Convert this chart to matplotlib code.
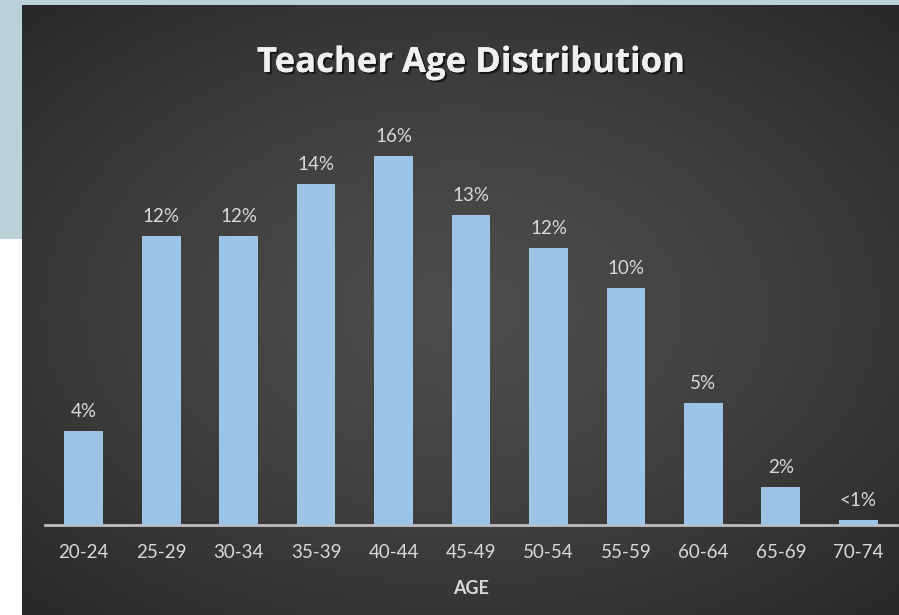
import numpy as np
import matplotlib
matplotlib.use('Agg')
import matplotlib.pyplot as plt
import matplotlib.patheffects as pe

# data
age_groups = ['20-24', '25-29', '30-34', '35-39', '40-44', '45-49',
              '50-54', '55-59', '60-64', '65-69', '70-74']
share = [4.0, 12.3, 12.3, 14.5, 15.7, 13.2, 11.8, 10.1, 5.2, 1.6, 0.2]
share_labels = ['4%', '12%', '12%', '14%', '16%', '13%',
                '12%', '10%', '5%', '2%', '<1%']

W, H = 899, 615
fig = plt.figure(figsize=(W / 100, H / 100), dpi=100)
fig.patch.set_facecolor('white')

# slide background (light blue-grey strip top/left)
slide = fig.add_axes([0, 0, 1, 1])
slide.set_xlim(0, W)
slide.set_ylim(H, 0)
slide.axis('off')
slide.add_patch(plt.Rectangle((0, 0), W, 6, color='#b9d1d7', lw=0))
slide.add_patch(plt.Rectangle((0, 0), 23, 239, color='#b9d1d7', lw=0))

# dark chart panel with a soft radial gradient
x0, y0 = 22, 5
panel = fig.add_axes([x0 / W, 0, 1 - x0 / W, 1 - y0 / H])
panel.axis('off')
gx, gy = np.meshgrid(np.linspace(-1, 1, 400), np.linspace(-1, 1, 300))
r = np.sqrt((gx * 0.95) ** 2 + (gy * 1.0) ** 2)
shade = 0.30 - 0.14 * np.clip(r / 1.35, 0, 1) ** 1.4
img = np.dstack([shade, shade, shade])
panel.imshow(img, aspect='auto', extent=[0, 1, 0, 1], interpolation='bilinear')
panel.set_xlim(0, 1)
panel.set_ylim(0, 1)

# bar chart
left, right, base, top = 45, 897, 525, 125
ax = fig.add_axes([left / W, (H - base) / H, (right - left) / W, (base - top) / H])
ax.patch.set_alpha(0)
x = np.arange(len(age_groups))
ax.bar(x, share, width=0.5, color='#9dc3e6', edgecolor='none', zorder=3)
ax.set_xlim(-0.5, len(age_groups) - 0.5)
ax.set_ylim(0, (base - top) / 23.5)

for xi, v, lab in zip(x, share, share_labels):
    ax.annotate(lab, (xi, v), xytext=(0, 8), textcoords='offset points',
                ha='center', va='bottom', color='#d9d9d9', fontsize=13.5,
                family='Lato')

for s in ['top', 'right', 'left']:
    ax.spines[s].set_visible(False)
ax.spines['bottom'].set_color('#bfbfbf')
ax.spines['bottom'].set_linewidth(2)
ax.set_yticks([])
ax.set_xticks(x)
ax.set_xticklabels(age_groups, color='#d9d9d9', fontsize=13.5, family='Lato')
ax.tick_params(axis='x', length=0, pad=14)
ax.set_xlabel('AGE', color='#d9d9d9', fontsize=13, fontweight='bold',
              family='Lato', labelpad=13)

fig.text((left + right) / 2 / W, 1 - 63 / H, 'Teacher Age Distribution',
         ha='center', va='center', color='#f0f0f0', fontsize=25,
         fontweight='bold', family='Open Sans',
         path_effects=[pe.withSimplePatchShadow(offset=(1.5, -1.5),
                                                shadow_rgbFace='black', alpha=0.6),
                       pe.Normal()])

fig.savefig('out.png', dpi=100)
